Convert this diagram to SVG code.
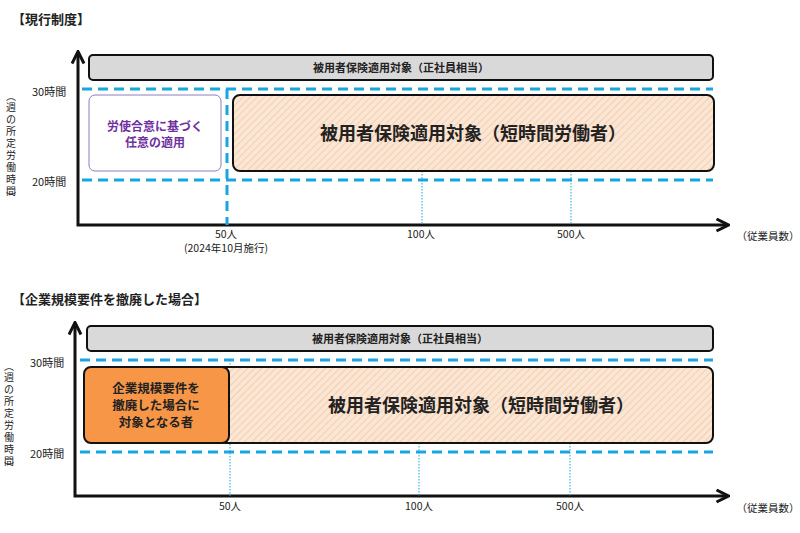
<svg xmlns="http://www.w3.org/2000/svg" width="800" height="533" viewBox="0 0 800 533">
<style>
text{font-family:"Noto Sans CJK JP","Noto Sans",sans-serif;fill:#222}
.t{font-size:13px;font-weight:bold}
.s{font-size:10.5px;text-anchor:middle}
.v{font-size:10px;text-anchor:middle}
.g{fill:#d9d9d9;stroke:#111;stroke-width:2}
.d{stroke:#1aa5e0;stroke-width:3;stroke-dasharray:10,6;fill:none}
.dt{stroke:#1aa5e0;stroke-width:1;stroke-dasharray:1.5,1.5}
.ax{stroke:#111;stroke-width:3;fill:none}
.h{fill:url(#hatch);stroke:#111;stroke-width:2}
</style>
<defs>
<pattern id="hatch" width="5" height="5" patternUnits="userSpaceOnUse" patternTransform="rotate(45)">
<rect width="5" height="5" fill="#fbe5d3"/><line x1="0" y1="0" x2="0" y2="5" stroke="#f0c8a8" stroke-width="1.5"/>
</pattern>
<marker id="ar" viewBox="0 0 10 10" refX="8" refY="5" markerWidth="5" markerHeight="5" orient="auto-start-reverse"><path d="M1,1 L9,5 L1,9" fill="none" stroke="#111" stroke-width="2"/></marker>
</defs>
<text class="t" x="12" y="24">【現行制度】</text>
<text class="t" x="12" y="304">【企業規模要件を撤廃した場合】</text>
<g id="connectors">
<path class="ax" d="M78,53 V225 H727" marker-start="url(#ar)" marker-end="url(#ar)"/>
<line class="d" x1="82" y1="89" x2="713" y2="89"/>
<line class="d" x1="82" y1="180" x2="713" y2="180"/>
<line class="d" x1="227" y1="89" x2="227" y2="225"/>
<line class="dt" x1="422" y1="171" x2="422" y2="225"/>
<line class="dt" x1="571" y1="171" x2="571" y2="225"/>
<path class="ax" d="M75,324 V496 H727" marker-start="url(#ar)" marker-end="url(#ar)"/>
<line class="d" x1="80" y1="360" x2="713" y2="360"/>
<line class="d" x1="80" y1="452" x2="713" y2="452"/>
<line class="dt" x1="230" y1="360" x2="230" y2="496"/>
<line class="dt" x1="419" y1="443" x2="419" y2="496"/>
<line class="dt" x1="570" y1="443" x2="570" y2="496"/>
</g>
<g id="top-gray"><rect class="g" x="89" y="55" width="624" height="25" rx="4"/><text x="401" y="72" text-anchor="middle" font-size="11" font-weight="bold">被用者保険適用対象（正社員相当）</text></g>
<g id="top-voluntary"><rect x="89" y="95" width="132" height="76" rx="6" fill="#fff" stroke="#8e7cc3" stroke-width="1"/><text x="155" y="131" text-anchor="middle" font-size="12" font-weight="bold" style="fill:#7030a0">労使合意に基づく</text><text x="155" y="147" text-anchor="middle" font-size="12" font-weight="bold" style="fill:#7030a0">任意の適用</text></g>
<g id="top-target"><rect class="h" x="233" y="95" width="481" height="76" rx="7"/><text x="473" y="140" text-anchor="middle" font-size="18" font-weight="bold">被用者保険適用対象（短時間労働者）</text></g>
<g id="bot-gray"><rect class="g" x="87" y="326" width="626" height="25" rx="4"/><text x="400" y="343" text-anchor="middle" font-size="11" font-weight="bold">被用者保険適用対象（正社員相当）</text></g>
<g id="bot-target"><rect class="h" x="200" y="367" width="513" height="76" rx="7"/><text x="481" y="412" text-anchor="middle" font-size="18" font-weight="bold">被用者保険適用対象（短時間労働者）</text></g>
<g id="bot-new"><rect x="84" y="367" width="145" height="76" rx="7" fill="#f79646" stroke="#111" stroke-width="2"/><text x="156" y="393" text-anchor="middle" font-size="12.5" font-weight="bold">企業規模要件を</text><text x="156" y="410" text-anchor="middle" font-size="12.5" font-weight="bold">撤廃した場合に</text><text x="156" y="427" text-anchor="middle" font-size="12.5" font-weight="bold">対象となる者</text></g>
<g id="labels">
<text x="32" y="96" font-size="11">30時間</text><text x="32" y="186" font-size="11">20時間</text>
<text x="30" y="367" font-size="11">30時間</text><text x="30" y="458" font-size="11">20時間</text>
<text class="s" x="226" y="238">50人</text><text class="s" x="226" y="252">(2024年10月施行)</text>
<text class="s" x="421" y="238">100人</text><text class="s" x="571" y="238">500人</text><text class="s" x="768" y="240">（従業員数）</text>
<text class="s" x="230" y="510">50人</text><text class="s" x="419" y="510">100人</text><text class="s" x="570" y="510">500人</text><text class="s" x="768" y="512">（従業員数）</text>
<text class="v" x="11"><tspan x="11" y="100">︵</tspan><tspan x="11" y="111">週</tspan><tspan x="11" y="123">の</tspan><tspan x="11" y="135">所</tspan><tspan x="11" y="147">定</tspan><tspan x="11" y="159">労</tspan><tspan x="11" y="171">働</tspan><tspan x="11" y="183">時</tspan><tspan x="11" y="195">間</tspan><tspan x="11" y="201">︶</tspan></text>
<text class="v" x="9"><tspan x="9" y="370">︵</tspan><tspan x="9" y="381">週</tspan><tspan x="9" y="393">の</tspan><tspan x="9" y="405">所</tspan><tspan x="9" y="417">定</tspan><tspan x="9" y="429">労</tspan><tspan x="9" y="441">働</tspan><tspan x="9" y="453">時</tspan><tspan x="9" y="465">間</tspan><tspan x="9" y="471">︶</tspan></text>
</g>
</svg>
